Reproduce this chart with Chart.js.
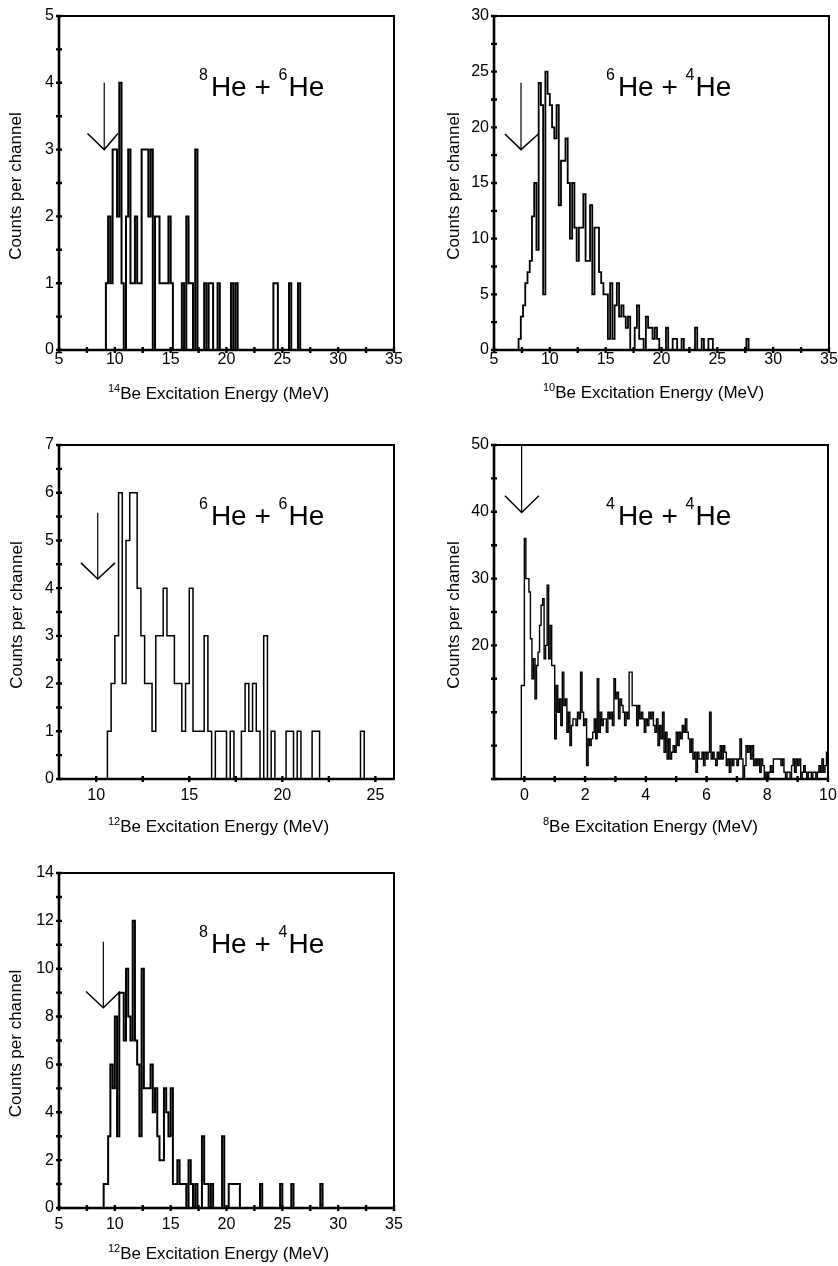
<!DOCTYPE html>
<html>
<head>
<meta charset="utf-8">
<title>Be excitation energy spectra</title>
<script src="https://cdn.jsdelivr.net/npm/chart.js@4/dist/chart.umd.min.js"></script>
<style>
  html, body { margin: 0; padding: 0; background: #fff; }
  #figure { position: relative; width: 838px; height: 1266px; overflow: hidden; }
  .panel { position: absolute; }
</style>
</head>
<body>
<div id="figure"></div>
<script>
const FONT = "'Liberation Sans', Arial, Helvetica, sans-serif";

// 14Be from 8He + 6He, 0.2 MeV channels starting at 9.0 MeV
const be14Start = 9.0;
const be14Counts = [
  0, 1, 2, 1, 3, 3, 2, 4, 1, 0,
  2, 3, 1, 1, 2, 1, 1, 3, 3, 3,
  2, 3, 0, 2, 2, 1, 1, 1, 1, 2,
  1, 0, 0, 0, 0, 1, 0, 2, 1, 1,
  0, 3, 0, 0, 0, 1, 0, 1, 1, 0,
  0, 1, 0, 0, 0, 0, 0, 1, 0, 1,
  0, 0, 0, 0, 0, 0, 0, 0, 0, 0,
  0, 0, 0, 0, 0, 0, 1, 1, 0, 0,
  0, 0, 0, 1, 0, 0, 0, 1, 0
];

// 10Be from 6He + 4He, 0.2 MeV channels starting at 7.2 MeV
const be10Start = 7.2;
const be10Counts = [
  1, 3, 4, 6, 7, 8, 12, 15, 9, 24,
  22, 5, 25, 23, 22, 20, 19, 22, 13, 17,
  17, 19, 15, 10, 15, 11, 8, 11, 11, 14,
  8, 8, 13, 5, 11, 11, 7, 6, 5, 5,
  1, 6, 1, 4, 6, 3, 4, 3, 2, 3,
  0, 0, 2, 4, 1, 1, 0, 3, 2, 2,
  1, 2, 1, 0, 0, 0, 2, 0, 0, 1,
  1, 0, 0, 1, 0, 0, 0, 0, 0, 2,
  0, 0, 1, 0, 0, 1, 1, 0, 0, 0,
  0, 0, 0, 0, 0, 0, 0, 0, 0, 0,
  0, 0, 1, 0
];

// 12Be from 6He + 6He, 0.2 MeV channels starting at 10.4 MeV
const be12aStart = 10.4;
const be12aCounts = [
  0, 1, 2, 3, 6, 2, 5, 6, 6, 4,
  3, 2, 2, 1, 3, 3, 4, 3, 3, 2,
  2, 1, 2, 4, 1, 1, 1, 3, 1, 0,
  1, 1, 1, 0, 1, 0, 0, 1, 2, 1,
  2, 1, 0, 3, 0, 1, 0, 0, 0, 1,
  1, 0, 1, 0, 0, 0, 1, 1, 0, 0,
  0, 0, 0, 0, 0, 0, 0, 0, 0, 1,
  0
];

// 8Be from 4He + 4He, 0.05 MeV channels starting at -0.10 MeV
const be8Start = -0.10;
const be8Counts = [
  14, 14, 36, 30, 30, 28, 21, 15, 18, 12,
  17, 19, 23, 26, 27, 18, 20, 29, 18, 23,
  17, 17, 6, 14, 10, 12, 8, 16, 11, 12,
  7, 10, 5, 8, 9, 9, 8, 10, 9, 16,
  10, 8, 9, 2, 6, 5, 6, 7, 9, 6,
  15, 7, 10, 8, 9, 9, 7, 10, 9, 10,
  8, 15, 12, 13, 9, 12, 11, 10, 8, 10,
  9, 16, 16, 11, 11, 11, 8, 11, 9, 10,
  9, 7, 9, 8, 10, 9, 10, 8, 7, 9,
  5, 8, 6, 10, 4, 7, 3, 6, 3, 4,
  5, 4, 7, 5, 7, 6, 8, 7, 9, 7,
  6, 4, 6, 3, 4, 1, 4, 3, 3, 4,
  2, 4, 3, 4, 10, 3, 4, 3, 2, 4,
  3, 5, 3, 5, 4, 2, 3, 1, 3, 2,
  3, 3, 2, 3, 6, 3, 0, 2, 5, 4,
  5, 3, 5, 2, 3, 2, 3, 1, 3, 2,
  0, 1, 0, 1, 2, 1, 3, 3, 3, 3,
  3, 2, 3, 1, 0, 1, 1, 0, 2, 3,
  1, 3, 2, 3, 0, 1, 2, 1, 0, 1,
  1, 0, 1, 1, 0, 1, 2, 1, 3, 1,
  2, 4
];

// 12Be from 8He + 4He, 0.2 MeV channels starting at 8.8 MeV
const be12bStart = 8.8;
const be12bCounts = [
  0, 1, 1, 3, 6, 5, 8, 3, 9, 9,
  7, 10, 8, 7, 12, 7, 6, 3, 10, 5,
  5, 5, 6, 4, 5, 3, 2, 2, 5, 4,
  3, 5, 1, 1, 2, 1, 1, 1, 0, 2,
  1, 0, 1, 0, 0, 3, 1, 1, 0, 1,
  0, 0, 0, 0, 3, 0, 0, 1, 1, 1,
  1, 1, 0, 0, 0, 0, 0, 0, 0, 0,
  0, 1, 0, 0, 0, 0, 0, 0, 0, 0,
  1, 0, 0, 0, 0, 1, 0, 0, 0, 0,
  0, 0, 0, 0, 0, 0, 0, 0, 1, 0
];

// tick labels
const energyTicks = [5, 10, 15, 20, 25, 30, 35];
const energyMinor = [7.5, 12.5, 17.5, 22.5, 27.5, 32.5];
const be12aTicks = [10, 15, 20, 25];
const be12aMinor = [12.5, 17.5, 22.5];
const be8Ticks = [0, 2, 4, 6, 8, 10];
const be8Minor = [1, 3, 5, 7, 9];
const be14YTicks = [0, 1, 2, 3, 4, 5];
const be10YTicks = [0, 5, 10, 15, 20, 25, 30];
const be12aYTicks = [0, 1, 2, 3, 4, 5, 6, 7];
const be8YTicks = [20, 30, 40, 50];
const be8YMarks = [0, 5, 10, 15, 20, 25, 30, 35, 40, 45, 50];
const be12bYTicks = [0, 2, 4, 6, 8, 10, 12, 14];

// threshold arrows: [energy, top, tip, left arm end, right arm end, arm height]
const be14Arrow = [9.05, 4.0, 3.0, 7.55, 10.28, 3.24];
const be10Arrow = [7.42, 24.0, 18.0, 5.98, 8.97, 19.4];
const be12aArrow = [10.08, 5.58, 4.19, 9.18, 11.01, 4.53];
const be8Arrow = [-0.09, 50, 39.9, -0.64, 0.48, 42.4];
const be12bArrow = [8.97, 11.13, 8.37, 7.42, 10.46, 9.05];

function halves(list) {
  const out = [];
  for (let i = 0; i < list.length - 1; i++) out.push((list[i] + list[i + 1]) / 2);
  return out;
}

function histogramPoints(start, width, counts) {
  const pts = [{ x: start, y: 0 }];
  counts.forEach((c, i) => pts.push({ x: start + i * width, y: c }));
  pts.push({ x: start + counts.length * width, y: 0 });
  return pts;
}

// draws text runs left to right, superscripts raised
function drawRich(ctx, runs, x, y) {
  let cx = x;
  runs.forEach(r => {
    ctx.font = `${r.size}px ${FONT}`;
    ctx.fillText(r.text, cx, y - (r.rise || 0));
    cx += ctx.measureText(r.text).width + (r.gap || 0);
  });
}

const framePlugin = {
  id: 'frame',
  afterDatasetsDraw(chart, args, opts) {
    const { ctx, chartArea: a } = chart;
    const xs = chart.scales.x;
    const ys = chart.scales.y;
    ctx.save();
    ctx.strokeStyle = '#000';
    ctx.fillStyle = '#000';

    // box, bottom and left axes a bit heavier
    ctx.lineWidth = 2;
    ctx.strokeRect(a.left, a.top, a.right - a.left, a.bottom - a.top);
    ctx.lineWidth = 2.6;
    ctx.beginPath();
    ctx.moveTo(a.left, a.top);
    ctx.lineTo(a.left, a.bottom);
    ctx.lineTo(a.right, a.bottom);
    ctx.stroke();

    // tick marks straddling the bottom and left axes
    ctx.lineWidth = 2.4;
    ctx.beginPath();
    opts.xMarks.forEach(v => {
      const px = xs.getPixelForValue(v);
      ctx.moveTo(px, a.bottom - 3);
      ctx.lineTo(px, a.bottom + 3);
    });
    opts.yMarks.forEach(v => {
      const py = ys.getPixelForValue(v);
      ctx.moveTo(a.left - 3, py);
      ctx.lineTo(a.left + 3, py);
    });
    ctx.stroke();

    // arrow
    const [ax, aTop, aTip, aL, aR, aArm] = opts.arrow;
    ctx.lineWidth = 1.2;
    ctx.beginPath();
    ctx.moveTo(xs.getPixelForValue(ax), Math.max(ys.getPixelForValue(aTop), a.top));
    ctx.lineTo(xs.getPixelForValue(ax), ys.getPixelForValue(aTip));
    ctx.stroke();
    ctx.lineWidth = 1.5;
    ctx.beginPath();
    ctx.moveTo(xs.getPixelForValue(aL), ys.getPixelForValue(aArm));
    ctx.lineTo(xs.getPixelForValue(ax), ys.getPixelForValue(aTip));
    ctx.lineTo(xs.getPixelForValue(aR), ys.getPixelForValue(aArm));
    ctx.stroke();

    // reaction label
    ctx.textAlign = 'left';
    ctx.textBaseline = 'alphabetic';
    drawRich(ctx, [
      { text: opts.beam[0], size: 16, rise: 16, gap: 3 },
      { text: 'He + ', size: 28 },
      { text: opts.beam[1], size: 16, rise: 16, gap: 1 },
      { text: 'He', size: 28 }
    ], a.left + opts.labelDx, a.top + 80);

    // x title
    drawRich(ctx, [
      { text: opts.mass, size: 11, rise: 7 },
      { text: 'Be Excitation Energy (MeV)', size: 17 }
    ], a.left + 49, a.bottom + opts.titleDy);

    // y title
    ctx.translate(a.left - opts.yTitleDx, (a.top + a.bottom) / 2 + 3);
    ctx.rotate(-Math.PI / 2);
    ctx.textAlign = 'center';
    ctx.textBaseline = 'middle';
    ctx.font = `17px ${FONT}`;
    ctx.fillText('Counts per channel', 0, 0);
    ctx.restore();
  }
};

const panels = [
  { box: [0, 0, 420, 410], area: [59, 16, 26, 60], tickPad: 0,
    xMin: 5, xMax: 35, xTicks: energyTicks, xMinor: energyMinor,
    yMax: 5, yTicks: be14YTicks, yMarks: be14YTicks.concat(halves(be14YTicks)),
    start: be14Start, width: 0.2, counts: be14Counts, arrow: be14Arrow, line: 2,
    beam: ['8', '6'], mass: '14', labelDx: 140, titleDy: 49, yTitleDx: 43 },
  { box: [420, 0, 418, 410], area: [74, 16, 9, 60], tickPad: 0,
    xMin: 5, xMax: 35, xTicks: energyTicks, xMinor: energyMinor,
    yMax: 30, yTicks: be10YTicks, yMarks: be10YTicks.concat(halves(be10YTicks)),
    start: be10Start, width: 0.2, counts: be10Counts, arrow: be10Arrow, line: 1.8,
    beam: ['6', '4'], mass: '10', labelDx: 112, titleDy: 48, yTitleDx: 40 },
  { box: [0, 410, 420, 440], area: [59, 35, 26, 71], tickPad: 7,
    xMin: 8, xMax: 26, xTicks: be12aTicks, xMinor: be12aMinor,
    yMax: 7, yTicks: be12aYTicks, yMarks: be12aYTicks.concat(halves(be12aYTicks)),
    start: be12aStart, width: 0.2, counts: be12aCounts, arrow: be12aArrow, line: 1.5,
    beam: ['6', '6'], mass: '12', labelDx: 140, titleDy: 53, yTitleDx: 42 },
  { box: [420, 410, 418, 440], area: [74, 35, 10, 71], tickPad: 7,
    xMin: -1, xMax: 10, xTicks: be8Ticks, xMinor: be8Minor,
    yMax: 50, yTicks: be8YTicks, yMarks: be8YMarks,
    start: be8Start, width: 0.05, counts: be8Counts, arrow: be8Arrow, line: 1.4,
    beam: ['4', '4'], mass: '8', labelDx: 112, titleDy: 53, yTitleDx: 40 },
  { box: [0, 820, 420, 446], area: [59, 53, 26, 58], tickPad: 7,
    xMin: 5, xMax: 35, xTicks: energyTicks, xMinor: energyMinor,
    yMax: 14, yTicks: be12bYTicks, yMarks: be12bYTicks.concat(halves(be12bYTicks)),
    start: be12bStart, width: 0.2, counts: be12bCounts, arrow: be12bArrow, line: 2,
    beam: ['8', '4'], mass: '12', labelDx: 140, titleDy: 51, yTitleDx: 43 }
];

function makePanel(p) {
  const [left, top, w, h] = p.box;
  const [yWidth, padTop, padRight, xHeight] = p.area;
  const wrap = document.createElement('div');
  wrap.className = 'panel';
  wrap.style.left = left + 'px';
  wrap.style.top = top + 'px';
  const canvas = document.createElement('canvas');
  canvas.width = w;
  canvas.height = h;
  wrap.appendChild(canvas);
  document.getElementById('figure').appendChild(wrap);

  const tickFont = { family: FONT, size: 16 };

  return new Chart(canvas, {
    type: 'line',
    data: {
      datasets: [{
        data: histogramPoints(p.start, p.width, p.counts),
        borderColor: '#000',
        borderWidth: p.line,
        pointRadius: 0,
        stepped: 'before',
        fill: false,
        tension: 0
      }]
    },
    options: {
      responsive: false,
      animation: false,
      devicePixelRatio: 1,
      layout: { padding: { top: padTop, right: padRight, left: 0, bottom: 0 } },
      plugins: {
        legend: { display: false },
        tooltip: { enabled: false },
        frame: {
          xMarks: p.xTicks.concat(p.xMinor),
          yMarks: p.yMarks,
          arrow: p.arrow,
          beam: p.beam,
          mass: p.mass,
          labelDx: p.labelDx,
          titleDy: p.titleDy,
          yTitleDx: p.yTitleDx
        }
      },
      scales: {
        x: {
          type: 'linear',
          min: p.xMin,
          max: p.xMax,
          grid: { display: false, drawTicks: false },
          border: { display: false },
          ticks: { font: tickFont, color: '#000', padding: p.tickPad, autoSkip: false, maxRotation: 0 },
          afterBuildTicks: s => { s.ticks = p.xTicks.map(v => ({ value: v })); },
          afterFit: s => { s.height = xHeight; s.paddingLeft = 0; s.paddingRight = 0; }
        },
        y: {
          type: 'linear',
          min: 0,
          max: p.yMax,
          grid: { display: false, drawTicks: false },
          border: { display: false },
          ticks: { font: tickFont, color: '#000', padding: 5, autoSkip: false },
          afterBuildTicks: s => { s.ticks = p.yTicks.map(v => ({ value: v })); },
          afterFit: s => { s.width = yWidth; s.paddingTop = 0; s.paddingBottom = 0; }
        }
      }
    },
    plugins: [framePlugin]
  });
}

panels.forEach(makePanel);
</script>
</body>
</html>
